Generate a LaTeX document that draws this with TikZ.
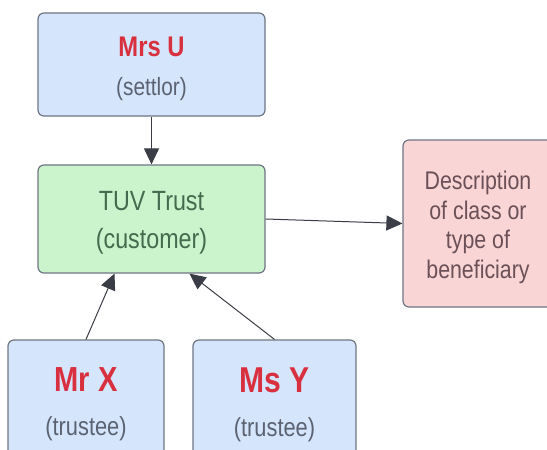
\documentclass[tikz,border=0pt]{standalone}
\usepackage{fontspec}
\setmainfont{Liberation Sans}
\usetikzlibrary{arrows.meta,calc}

\definecolor{bluefill}{HTML}{D5E5FB}
\definecolor{greenfill}{HTML}{CCF4CC}
\definecolor{pinkfill}{HTML}{F9D5D6}
\definecolor{boxedge}{HTML}{6E7684}
\definecolor{namered}{HTML}{D8303F}
\definecolor{rolegray}{HTML}{5B6272}
\definecolor{trustgreen}{HTML}{456A4E}
\definecolor{descbrown}{HTML}{6B5157}
\definecolor{arrowdark}{HTML}{3A3D45}

\tikzset{
  box/.style={draw=boxedge, line width=1.2pt, rounded corners=6pt, align=center, inner sep=0pt},
  personbox/.style={box, fill=bluefill},
  trustbox/.style={box, fill=greenfill, text=trustgreen},
  descbox/.style={box, fill=pinkfill, text=descbrown},
  link/.style={draw=arrowdark, line width=1pt, -{Triangle[length=16pt,width=15pt]}},
}
% slightly narrow, tall lettering, set a little low on its baseline
\newcommand{\tall}[1]{\raisebox{-4pt}[\height][\depth]{\scalebox{0.97}[1.16]{#1}}}
\newcommand{\personname}[1]{{\color{namered}\bfseries\tall{#1}}}
\newcommand{\personrole}[1]{{\color{rolegray}\tall{#1}}}

\begin{document}
\begin{tikzpicture}[x=1pt,y=-1pt]
  \useasboundingbox (0,0) rectangle (547,450);
  \fill[white] (0,0) rectangle (547,450);
  \clip (0,0) rectangle (547,450);

  % settlor
  \node[personbox, minimum width=227pt, minimum height=103pt,
        font=\fontsize{21.5}{39}\selectfont] (mrsu) at (151.5,64.5)
    {{\fontsize{24.5}{39}\selectfont\personname{Mrs U}}\\\personrole{(settlor)}};

  % the trust
  \node[trustbox, minimum width=227pt, minimum height=108pt,
        font=\fontsize{24}{38}\selectfont] (tuv) at (151.5,219)
    {\tall{TUV Trust}\\\tall{(customer)}};

  % beneficiaries
  \node[descbox, minimum width=150pt, minimum height=167pt,
        font=\fontsize{22}{29.5}\selectfont] (desc) at (478,223.5)
    {\tall{Description}\\\tall{of class or}\\\tall{type of}\\\tall{beneficiary}};

  % trustees
  \node[personbox, minimum width=156pt, minimum height=121pt,
        font=\fontsize{22.5}{44}\selectfont] (mrx) at (86,400.5)
    {{\fontsize{30}{44}\selectfont\personname{Mr X}}\\\personrole{(trustee)}};
  \node[personbox, minimum width=163pt, minimum height=121pt,
        font=\fontsize{22.5}{44}\selectfont] (msy) at (274.5,400.5)
    {{\fontsize{31}{44}\selectfont\personname{Ms Y}}\\\personrole{(trustee)}};

  % relations
  \draw[link] (mrsu.south) -- (tuv.north);
  \draw[link] (tuv.east) -- (desc.west);
  \draw[link] (mrx.north) -- ($(tuv.south)+(-37,0)$);
  \draw[link] (msy.north) -- ($(tuv.south)+(38,0)$);
\end{tikzpicture}
\end{document}
